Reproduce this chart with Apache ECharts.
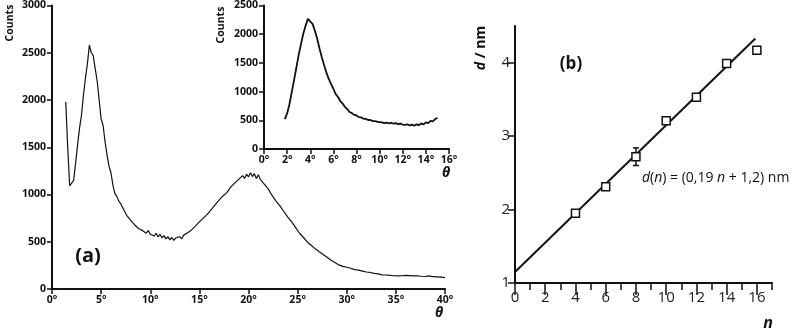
<!DOCTYPE html>
<html>
<head>
<meta charset="utf-8">
<script src="https://cdn.jsdelivr.net/npm/echarts@6/dist/echarts.min.js"></script>
<style>
  html, body { margin: 0; padding: 0; background: #fff; }
  #main { width: 800px; height: 330px; }
</style>
</head>
<body>
<div id="main"></div>
<script>
// (a) main pattern, counts read every 0.2 deg starting at 1.4 deg
let mainStart = 1.4;
let mainStep = 0.2;
let mainCounts = [
  1980, 1500, 1090, 1070, 1150, 1330, 1520, 1700, 1840, 2050,
  2230, 2380, 2580, 2500, 2470, 2330, 2200, 2000, 1800, 1730,
  1560, 1420, 1300, 1230, 1100, 1010, 980, 930, 900, 860,
  840, 780, 785, 730, 735, 680, 670, 640, 655, 620,
  630, 590, 620, 580, 600, 560, 590, 550, 580, 540,
  565, 530, 555, 520, 545, 515, 540, 520, 555, 530,
  570, 555, 595, 580, 625, 615, 665, 660, 710, 705,
  750, 745, 790, 800, 840, 850, 890, 895, 940, 935,
  985, 990, 1020, 1030, 1080, 1070, 1120, 1110, 1160, 1140,
  1200, 1170, 1215, 1185, 1230, 1190, 1220, 1170, 1210, 1160,
  1180, 1110, 1130, 1060, 1070, 990, 1010, 930, 945, 880,
  870, 820, 810, 760, 750, 710, 690, 650, 640, 590,
  580, 545, 530, 495, 485, 460, 445, 425, 420, 395,
  390, 365, 360, 335, 325, 305, 300, 280, 280, 255,
  255, 240, 250, 230, 235, 220, 225, 205, 215, 200,
  205, 190, 195, 180, 190, 175, 180, 165, 172, 160,
  165, 150, 158, 148, 155, 145, 152, 140, 150, 138,
  146, 140, 132, 145, 135, 142, 128, 138, 130, 140,
  126, 135, 122, 132, 125, 138, 120, 130, 118, 128,
  115, 125, 112, 120
];

// inset, counts every 0.2 deg starting at 1.8 deg
let insetStart = 1.8;
let insetStep = 0.2;
let insetCounts = [
  520, 620, 780, 990, 1200, 1420, 1640, 1830, 2010, 2150,
  2270, 2220, 2180, 2060, 1920, 1750, 1600, 1460, 1330, 1220,
  1130, 1050, 955, 905, 835, 790, 735, 695, 645, 625,
  595, 585, 555, 550, 530, 525, 505, 505, 485, 485,
  475, 470, 465, 450, 460, 445, 455, 440, 450, 430,
  445, 425, 420, 430, 410, 425, 405, 430, 415, 445,
  430, 465, 450, 490, 480, 520, 545
];

// (b) d versus n
let nVals = [4, 6, 8, 10, 12, 14, 16];
let dVals = [1.95, 2.31, 2.72, 3.21, 3.53, 3.99, 4.17];
let errN = [8];
let errLow = [2.60];
let errHigh = [2.84];
let fitN = [0, 15.9];
let fitD = [1.15, 4.33];
let nMajor = [0, 2, 4, 6, 8, 10, 12, 14, 16];
let nMinor = [1, 3, 5, 7, 9, 11, 13, 15, 17];
let dTicks = [1, 2, 3, 4];

let mainData = mainCounts.map(function (c, i) { return [+(mainStart + i * mainStep).toFixed(1), c]; });
let insetData = insetCounts.map(function (c, i) { return [+(insetStart + i * insetStep).toFixed(1), c]; });
let pointData = nVals.map(function (n, i) { return [n, dVals[i]]; });
let fitData = fitN.map(function (n, i) { return [n, fitD[i]]; });
let errData = errN.map(function (n, i) { return [n, errLow[i], errHigh[i]]; });

let boldFont = 'Open Sans';

function degAxis(grid, max, step) {
  return {
    type: 'value', gridIndex: grid, min: 0, max: max, interval: step,
    axisLine: { show: true, onZero: false, lineStyle: { color: '#111', width: 2 } },
    axisTick: { show: true, length: 5, lineStyle: { color: '#111', width: 1.5 } },
    splitLine: { show: false },
    axisLabel: { formatter: '{value}°', color: '#111', fontWeight: 'bold', fontSize: 10.5, fontFamily: boldFont, margin: 6 }
  };
}
function cntAxis(grid, max) {
  return {
    type: 'value', gridIndex: grid, min: 0, max: max, interval: 500,
    axisLine: { show: true, onZero: false, lineStyle: { color: '#111', width: 2 } },
    axisTick: { show: true, length: 5, lineStyle: { color: '#111', width: 1.5 } },
    splitLine: { show: false },
    axisLabel: { color: '#111', fontWeight: 'bold', fontSize: 10.5, fontFamily: boldFont, margin: 6,
      formatter: function (v) { return String(v); } }
  };
}

let chart = echarts.init(document.getElementById('main'));
let option = {
  backgroundColor: '#fff',
  animation: false,
  grid: [
    { left: 52, top: 5, width: 393, height: 284 },
    { left: 264, top: 5, width: 185, height: 144 },
    { left: 515, top: 26, width: 257, height: 257 }
  ],
  xAxis: [
    degAxis(0, 40, 5),
    degAxis(1, 16, 2),
    {
      type: 'value', gridIndex: 2, min: 0, max: 17,
      axisLine: { show: true, onZero: false, lineStyle: { color: '#111', width: 2 } },
      axisTick: { show: true, length: 7, customValues: nMinor, lineStyle: { color: '#111', width: 1.5 } },
      splitLine: { show: false },
      axisLabel: { show: false }
    },
    {
      type: 'value', gridIndex: 2, min: 0, max: 17,
      position: 'bottom',
      axisLine: { show: false },
      axisTick: { show: true, length: 12, customValues: nMajor, lineStyle: { color: '#111', width: 1.5 } },
      splitLine: { show: false },
      axisLabel: { customValues: nMajor, color: '#222', fontSize: 15, fontFamily: 'Open Sans', margin: 7 }
    }
  ],
  yAxis: [
    cntAxis(0, 3000),
    cntAxis(1, 2500),
    {
      type: 'value', gridIndex: 2, min: 1, max: 4.5,
      axisLine: { show: true, onZero: false, lineStyle: { color: '#111', width: 2 } },
      axisTick: { show: true, length: 7, customValues: dTicks, lineStyle: { color: '#111', width: 1.5 } },
      splitLine: { show: false },
      axisLabel: { customValues: dTicks, color: '#222', fontSize: 15, fontFamily: 'Open Sans', margin: 5 }
    }
  ],
  series: [
    { type: 'line', xAxisIndex: 0, yAxisIndex: 0, data: mainData, showSymbol: false,
      lineStyle: { color: '#111', width: 1.2 } },
    { type: 'line', xAxisIndex: 1, yAxisIndex: 1, data: insetData, showSymbol: false,
      lineStyle: { color: '#111', width: 1.8 } },
    { type: 'line', xAxisIndex: 2, yAxisIndex: 2, data: fitData, showSymbol: false,
      lineStyle: { color: '#111', width: 2 } },
    { type: 'custom', xAxisIndex: 2, yAxisIndex: 2, data: errData, z: 3,
      renderItem: function (params, api) {
        let lo = api.coord([api.value(0), api.value(1)]);
        let hi = api.coord([api.value(0), api.value(2)]);
        let st = { stroke: '#111', lineWidth: 1.5 };
        return { type: 'group', children: [
          { type: 'line', shape: { x1: lo[0], y1: lo[1], x2: hi[0], y2: hi[1] }, style: st },
          { type: 'line', shape: { x1: lo[0] - 3, y1: lo[1], x2: lo[0] + 3, y2: lo[1] }, style: st },
          { type: 'line', shape: { x1: hi[0] - 3, y1: hi[1], x2: hi[0] + 3, y2: hi[1] }, style: st }
        ] };
      } },
    { type: 'scatter', xAxisIndex: 2, yAxisIndex: 2, data: pointData, symbol: 'rect', symbolSize: 8, z: 4,
      itemStyle: { color: '#fff', borderColor: '#111', borderWidth: 1.5, opacity: 1 } }
  ],
  graphic: [
    { type: 'text', x: 10, y: 23, rotation: Math.PI / 2,
      style: { text: 'Counts', font: 'bold 10.5px "Open Sans"', fill: '#111', align: 'center', verticalAlign: 'middle' } },
    { type: 'text', x: 221, y: 25, rotation: Math.PI / 2,
      style: { text: 'Counts', font: 'bold 10.5px "Open Sans"', fill: '#111', align: 'center', verticalAlign: 'middle' } },
    { type: 'text', x: 88, y: 256,
      style: { text: '(a)', font: 'bold 20px "Open Sans"', fill: '#111', align: 'center', verticalAlign: 'middle' } },
    { type: 'text', x: 439, y: 313,
      style: { text: 'θ', font: 'italic bold 14px "Open Sans"', fill: '#111', align: 'center', verticalAlign: 'middle' } },
    { type: 'text', x: 446, y: 173,
      style: { text: 'θ', font: 'italic bold 14px "Open Sans"', fill: '#111', align: 'center', verticalAlign: 'middle' } },
    { type: 'text', x: 571, y: 64,
      style: { text: '(b)', font: 'bold 17px "Open Sans"', fill: '#111', align: 'center', verticalAlign: 'middle' } },
    { type: 'text', x: 481, y: 48, rotation: Math.PI / 2,
      style: { text: '{i|d} / nm', font: 'bold 14px "Open Sans"', fill: '#111', align: 'center', verticalAlign: 'middle',
        rich: { i: { font: 'italic bold 14px "Open Sans"', fill: '#111' } } } },
    { type: 'text', x: 642, y: 178,
      style: { text: '{i|d}({i|n}) = (0,19 {i|n} + 1,2) nm', font: '14px "Open Sans"', fill: '#111', align: 'left', verticalAlign: 'middle',
        rich: { i: { font: 'italic 14px "Open Sans"', fill: '#111' } } } },
    { type: 'text', x: 768, y: 323,
      style: { text: 'n', font: 'italic bold 16px "Open Sans"', fill: '#111', align: 'center', verticalAlign: 'middle' } }
  ]
};
chart.setOption(option);
</script>
</body>
</html>
